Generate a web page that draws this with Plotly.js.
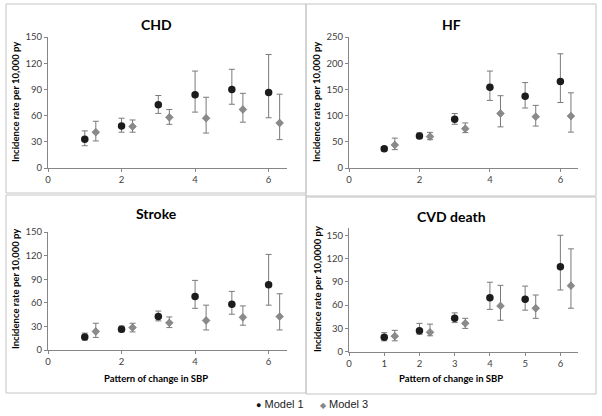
<!DOCTYPE html>
<html>
<head>
<meta charset="utf-8">
<script src="https://cdn.plot.ly/plotly-3.0.1.min.js"></script>
<style>
body { margin: 0; background: #fff; }
#myDiv { width: 602px; height: 416px; }
</style>
</head>
<body>
<div id="myDiv"></div>
<script>
// x positions: Model 3 is nudged right of Model 1
var patternM1 = [1, 2, 3, 4, 5, 6];
var patternM3 = [1.3, 2.3, 3.3, 4.3, 5.3, 6.3];

var chdM1 = [33, 48, 72.5, 84, 90, 86.5];
var chdM1Lo = [25.5, 41, 62.5, 64, 73, 57.5];
var chdM1Hi = [42.5, 57, 83, 111, 113, 130];
var chdM3 = [41, 47.5, 58, 57, 67, 51.5];
var chdM3Lo = [31, 41, 50, 40, 52.5, 32.5];
var chdM3Hi = [53.5, 55, 67, 81, 85.5, 84.5];

var hfM1 = [36.5, 61, 93, 154, 137, 165];
var hfM1Lo = [32, 56, 83.5, 129, 114.5, 125];
var hfM1Hi = [41, 67, 104, 185, 163, 218];
var hfM3 = [44, 60, 75, 104, 98, 99];
var hfM3Lo = [35, 54, 67.5, 78.5, 80, 68.5];
var hfM3Hi = [57, 68, 86, 138, 119.5, 143.5];

var strokeM1 = [16.5, 26.5, 42.5, 68, 58, 83];
var strokeM1Lo = [12.5, 23, 37, 53, 45.5, 57];
var strokeM1Hi = [21.5, 30.5, 49.5, 88.5, 74.5, 121.5];
var strokeM3 = [23.5, 28.5, 34.5, 37.5, 41.5, 42.5];
var strokeM3Lo = [16, 23, 28.5, 25.5, 31.5, 25.5];
var strokeM3Hi = [34, 34, 42, 57, 56, 71.5];

var cvdM1 = [18.5, 27, 43, 69.5, 67.5, 109.5];
var cvdM1Lo = [14, 22.5, 37.5, 54.5, 53.5, 79.5];
var cvdM1Hi = [24.5, 36.5, 50, 89.5, 84.5, 150];
var cvdM3 = [20, 25, 36.5, 59, 56, 85];
var cvdM3Lo = [14, 20.5, 30, 40.5, 43, 56];
var cvdM3Hi = [27.5, 35.5, 43, 85.5, 73, 132.5];

var panelTitles = ["CHD", "HF", "Stroke", "CVD death"];
var yTitles = ["Incidence rate per 10,000 py", "Incidence rate per 10,000 py",
    "Incidence rate per 10,000 py", "Incidence rate per 10,0000 py"];
var xTitle = "Pattern of change in SBP";
var legendNames = ["Model 1", "Model 3"];

var W = 602, H = 416;
var font = "Lato, 'Open Sans', sans-serif";
var px = function(v) { return v / W; };
var py = function(v) { return 1 - v / H; };

var m1Trace = function(vals, lo, hi, n) {
    return {
        x: patternM1, y: vals,
        xaxis: "x" + (n > 1 ? n : ""), yaxis: "y" + (n > 1 ? n : ""),
        mode: "markers", type: "scatter", name: legendNames[0], showlegend: false,
        marker: { symbol: "circle", size: 7.5, color: "#1c1c1c" },
        error_y: {
            type: "data", symmetric: false,
            array: hi.map((h, i) => h - vals[i]),
            arrayminus: lo.map((l, i) => vals[i] - l),
            color: "#7a7a7a", thickness: 1, width: 3
        }
    };
};

var m3Trace = function(vals, lo, hi, n) {
    return {
        x: patternM3, y: vals,
        xaxis: "x" + (n > 1 ? n : ""), yaxis: "y" + (n > 1 ? n : ""),
        mode: "markers", type: "scatter", name: legendNames[1], showlegend: false,
        marker: { symbol: "diamond", size: 6, color: "#8a8a8a", line: { color: "#6a6a6a", width: 0.5 } },
        error_y: {
            type: "data", symmetric: false,
            array: hi.map((h, i) => h - vals[i]),
            arrayminus: lo.map((l, i) => vals[i] - l),
            color: "#7a7a7a", thickness: 1, width: 3
        }
    };
};

var data = [
    m1Trace(chdM1, chdM1Lo, chdM1Hi, 1), m3Trace(chdM3, chdM3Lo, chdM3Hi, 1),
    m1Trace(hfM1, hfM1Lo, hfM1Hi, 2), m3Trace(hfM3, hfM3Lo, hfM3Hi, 2),
    m1Trace(strokeM1, strokeM1Lo, strokeM1Hi, 3), m3Trace(strokeM3, strokeM3Lo, strokeM3Hi, 3),
    m1Trace(cvdM1, cvdM1Lo, cvdM1Hi, 4), m3Trace(cvdM3, cvdM3Lo, cvdM3Hi, 4),
];

var axisBase = function() {
    return {
        showline: true, linecolor: "#868686", linewidth: 1,
        ticks: "outside", ticklen: 3, tickcolor: "#868686",
        showgrid: false, zeroline: false, fixedrange: true,
        tickfont: { family: font, size: 9.5, color: "#404040" },
    };
};

var xAx = function(l, r, anchor, dtick) {
    var a = axisBase();
    a.domain = [px(l), px(r)];
    a.range = [0, 6.5];
    a.tick0 = 0;
    a.dtick = dtick;
    a.anchor = anchor;
    return a;
};

var yAx = function(top, bottom, anchor, max, dtick) {
    var a = axisBase();
    a.domain = [py(bottom), py(top)];
    a.range = [0, max];
    a.tick0 = 0;
    a.dtick = dtick;
    a.anchor = anchor;
    return a;
};

// panel boxes, in pixels
var boxes = [[6, 4, 306, 193], [306, 4, 596, 196], [6, 195, 306, 393], [306, 197, 596, 394]];
var shapes = boxes.map(function(b) {
    return {
        type: "rect", xref: "paper", yref: "paper",
        x0: px(b[0]), x1: px(b[2]), y0: py(b[3]), y1: py(b[1]),
        line: { color: "#c4c4c4", width: 1 }
    };
});

var titlePos = [[156, 24], [451, 24], [156, 214], [451, 216]];
var yTitlePos = [[15, 102], [316, 102], [15, 289], [317, 289]];
var xTitlePos = [[156, 378], [451, 378]];

var annotations = [];
panelTitles.forEach(function(t, i) {
    annotations.push({
        xref: "paper", yref: "paper", x: px(titlePos[i][0]), y: py(titlePos[i][1]),
        text: "<b>" + t + "</b>", showarrow: false, xanchor: "center", yanchor: "middle",
        font: { family: font, size: 14, color: "#000" }
    });
});
yTitles.forEach(function(t, i) {
    annotations.push({
        xref: "paper", yref: "paper", x: px(yTitlePos[i][0]), y: py(yTitlePos[i][1]),
        text: "<b>" + t + "</b>", showarrow: false, textangle: -90,
        xanchor: "center", yanchor: "middle",
        font: { family: font, size: 9.5, color: "#000" }
    });
});
xTitlePos.forEach(function(p) {
    annotations.push({
        xref: "paper", yref: "paper", x: px(p[0]), y: py(p[1]),
        text: "<b>" + xTitle + "</b>", showarrow: false, xanchor: "center", yanchor: "middle",
        font: { family: font, size: 9.5, color: "#000" }
    });
});
// legend
annotations.push({
    xref: "paper", yref: "paper", x: px(254), y: py(404), xanchor: "left", yanchor: "middle",
    showarrow: false,
    text: '<span style="color:#111;font-size:9px">●</span> ' + legendNames[0],
    font: { family: "'Liberation Sans', Arial, sans-serif", size: 11, color: "#222" }
});
annotations.push({
    xref: "paper", yref: "paper", x: px(318), y: py(404), xanchor: "left", yanchor: "middle",
    showarrow: false,
    text: '<span style="color:#888;font-size:8px">◆</span> ' + legendNames[1],
    font: { family: "'Liberation Sans', Arial, sans-serif", size: 11, color: "#222" }
});

var layout = {
    width: W, height: H,
    margin: { l: 0, r: 0, t: 0, b: 0 },
    paper_bgcolor: "#fff",
    plot_bgcolor: "#fff",
    showlegend: false,
    font: { family: font },
    xaxis: xAx(48, 287, "y", 2),
    yaxis: yAx(37, 168, "x", 150, 30),
    xaxis2: xAx(349, 578, "y2", 2),
    yaxis2: yAx(37, 168, "x2", 250, 50),
    xaxis3: xAx(48, 287, "y3", 2),
    yaxis3: yAx(232, 350, "x3", 150, 30),
    xaxis4: xAx(349, 578, "y4", 1),
    yaxis4: yAx(227.5, 351.7, "x4", 160, 30),
    shapes: shapes,
    annotations: annotations,
};

Plotly.newPlot("myDiv", data, layout, { displayModeBar: false, staticPlot: true });
</script>
</body>
</html>
